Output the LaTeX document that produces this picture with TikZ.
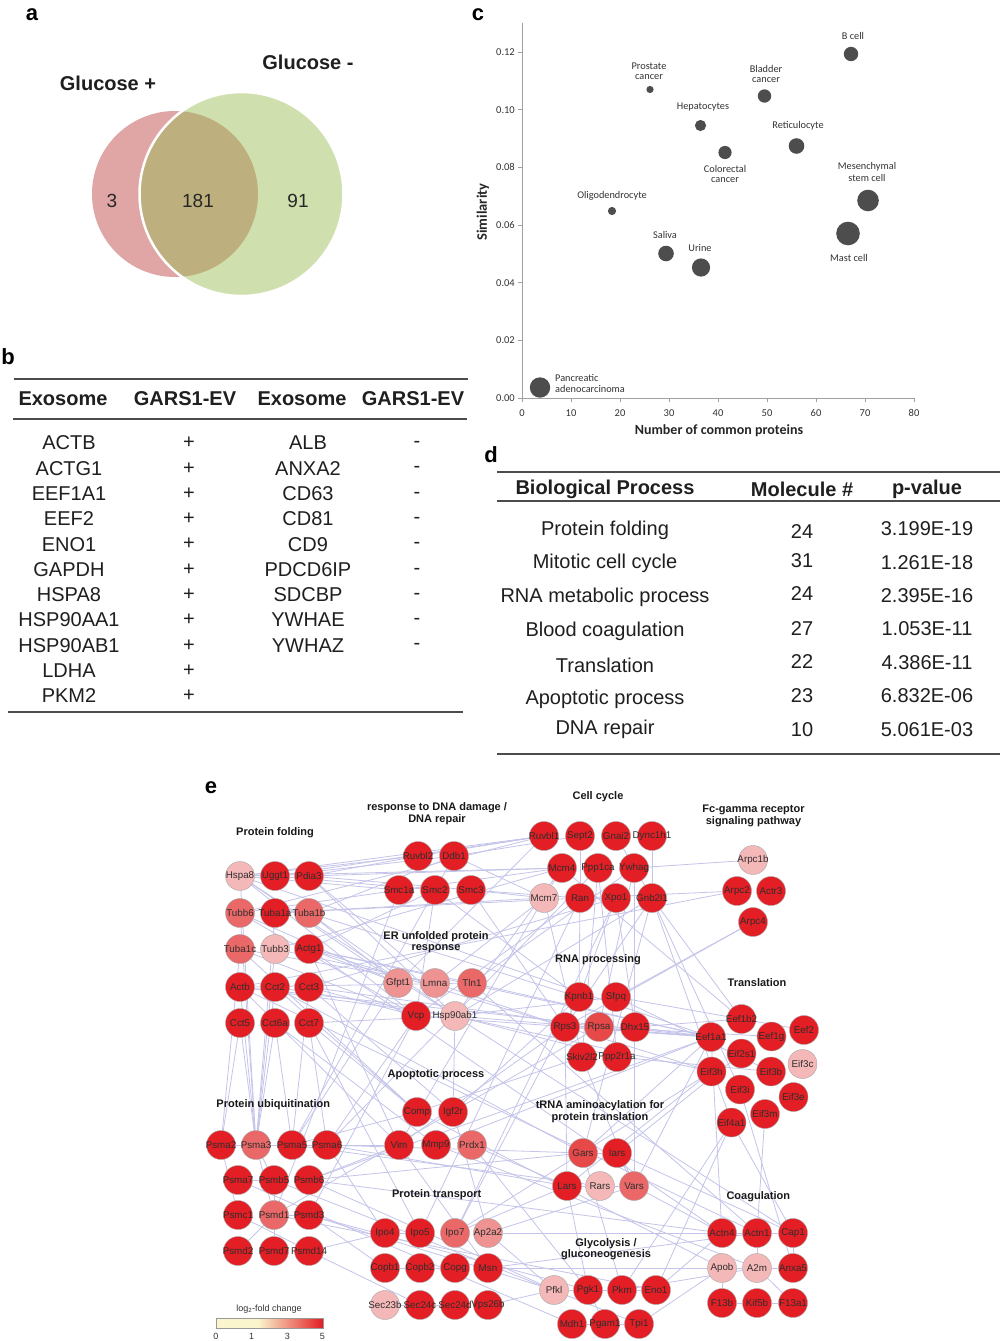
\documentclass[tikz,border=0pt]{standalone}
\usepackage{fontspec}
\setmainfont{Liberation Sans}
\newfontfamily\calib{Carlito}
\usetikzlibrary{backgrounds}
\newcommand\fsz[1]{\fontsize{#1}{#1}\selectfont}
\definecolor{gred}{RGB}{227,30,36}
\definecolor{grpsa}{RGB}{231,72,72}
\definecolor{gmid}{RGB}{234,104,104}
\definecolor{glm}{RGB}{238,146,146}
\definecolor{glt}{RGB}{245,184,184}
\definecolor{edgec}{RGB}{196,196,234}
\definecolor{vpink}{RGB}{224,165,165}
\definecolor{vgreen}{RGB}{207,223,174}
\definecolor{volive}{RGB}{190,176,126}
\definecolor{dotc}{RGB}{77,77,77}
\definecolor{axc}{RGB}{160,160,160}
\definecolor{lgy}{RGB}{250,245,205}
\tikzset{
 gene/.style={circle, minimum size=29pt, inner sep=0pt, draw=black!35, line width=0.4pt},
 genetxt/.style={font=\fsz{9.8}, inner sep=0pt, text=black!82},
 ttl/.style={font=\bfseries\fsz{11}, inner sep=0pt, text=black!90},
 plab/.style={font=\bfseries\fsz{22}, inner sep=0pt},
 tb/.style={font=\fsz{20}, inner sep=0pt, text=black!88},
 tbh/.style={font=\bfseries\fsz{20}, inner sep=0pt, text=black!88},
 clab/.style={font=\calib\fsz{10.3}, inner sep=0pt, text=black!80},
 elink/.style={draw=edgec, line width=0.8pt},
 tabrule/.style={draw=black!70, line width=1.4pt},
}
\newcommand\gn[4]{\node[gene, fill=#4] (#1) at (#2,#3) {}; \node[genetxt] (t#1) at (#1) {#1};}
\begin{document}
\begin{tikzpicture}[x=1pt,y=-1pt]
\useasboundingbox (0,0) rectangle (1000,1341);
\begin{scope}[on background layer]\fill[white] (0,0) rectangle (1000,1341);\end{scope}

% ---------- panel labels
\node[plab] (la) at (32,15) {a};
\node[plab] (lb) at (8,357) {b};
\node[plab] (lc) at (478,15) {c};
\node[plab] (ld) at (491,455) {d};
\node[plab] (le) at (211,788) {e};

% ---------- panel a: Venn
\fill[vpink] (175,194) circle (83pt);
\fill[vgreen] (241.5,194) circle (102pt);
\begin{scope}
\clip (175,194) circle (83pt);
\fill[volive] (241.5,194) circle (102pt);
\end{scope}
\draw[white, line width=2.5pt] (241.5,194) circle (102pt);
\node[font=\bfseries\fsz{20}, inner sep=0pt, text=black!88] (gp) at (108,83) {Glucose +};
\node[font=\bfseries\fsz{20}, inner sep=0pt, text=black!88] (gm) at (308,62) {Glucose -};
\node[font=\fsz{19}, inner sep=0pt, text=black!85] (n3) at (112,201) {3};
\node[font=\fsz{19}, inner sep=0pt, text=black!85] (n181) at (198,201) {181};
\node[font=\fsz{19}, inner sep=0pt, text=black!85] (n91) at (298,201) {91};

% ---------- panel b: table
\draw[tabrule] (14,379) -- (468,379);
\draw[tabrule] (13,419) -- (467,419);
\draw[tabrule] (8,712) -- (463,712);
\node[tbh] (bh1) at (63,399) {Exosome};
\node[tbh] (bh2) at (185,399) {GARS1-EV};
\node[tbh] (bh3) at (302,399) {Exosome};
\node[tbh] (bh4) at (413,399) {GARS1-EV};
\foreach \t [count=\i from 0] in {ACTB,ACTG1,EEF1A1,EEF2,ENO1,GAPDH,HSPA8,HSP90AA1,HSP90AB1,LDHA,PKM2}
 {\node[tb] (bl\i) at (69,443+25.3*\i) {\t}; \node[tb] (bp\i) at (189,443+25.3*\i) {+};}
\foreach \t [count=\i from 0] in {ALB,ANXA2,CD63,CD81,CD9,PDCD6IP,SDCBP,YWHAE,YWHAZ}
 {\node[tb] (br\i) at (308,443+25.3*\i) {\t}; \node[tb] (bm\i) at (417,444.5+25.3*\i) {-};}

% ---------- panel c: bubble plot
\draw[axc, line width=0.9pt] (522,23) -- (522,398) -- (914,398);
\foreach \i in {0,...,8} {
 \pgfmathtruncatemacro\lab{10*\i}
 \draw[axc, line width=0.8pt] (522+49*\i,398) -- (522+49*\i,402);
 \node[clab, font=\calib\fsz{10.5}] (cx\i) at (522+49*\i,413) {\lab};
}
\foreach \j/\t in {0/0.00,1/0.02,2/0.04,3/0.06,4/0.08,5/0.10,6/0.12} {
 \draw[axc, line width=0.8pt] (518,398-57.67*\j) -- (522,398-57.67*\j);
 \node[clab, font=\calib\fsz{10.5}, anchor=east] (cy\j) at (515,398-57.67*\j) {\t};
}
\node[font=\calib\bfseries\fsz{14}, inner sep=0pt, text=black!85] (cxt) at (719,431) {Number of common proteins};
\node[font=\calib\bfseries\fsz{14.5}, inner sep=0pt, rotate=90, text=black!85] (cyt) at (483,212) {Similarity};
\fill[dotc] (851,54) circle (7.2pt);
\fill[dotc] (650,89.5) circle (3.6pt);
\fill[dotc] (764.5,96) circle (6.7pt);
\fill[dotc] (700.5,125.5) circle (5.6pt);
\fill[dotc] (725,152.5) circle (6.6pt);
\fill[dotc] (796.5,146) circle (7.8pt);
\fill[dotc] (868,200.5) circle (10.8pt);
\fill[dotc] (848,233.5) circle (11.8pt);
\fill[dotc] (612,211) circle (4.1pt);
\fill[dotc] (666,253.5) circle (7.8pt);
\fill[dotc] (701,267.5) circle (9.1pt);
\fill[dotc] (540,387.5) circle (10.2pt);
\node[clab] (cl1) at (853,36) {B cell};
\node[clab] (cl2a) at (649,66) {Prostate};
\node[clab] (cl2b) at (649,77) {cancer};
\node[clab] (cl3a) at (766,69) {Bladder};
\node[clab] (cl3b) at (766,80) {cancer};
\node[clab] (cl4) at (703,107) {Hepatocytes};
\node[clab] (cl5) at (798,126) {Reticulocyte};
\node[clab] (cl6a) at (725,169) {Colorectal};
\node[clab] (cl6b) at (725,180) {cancer};
\node[clab] (cl7a) at (867,167) {Mesenchymal};
\node[clab] (cl7b) at (867,178) {stem cell};
\node[clab] (cl8) at (612,196) {Oligodendrocyte};
\node[clab] (cl9) at (665,235) {Saliva};
\node[clab] (cl10) at (700,248) {Urine};
\node[clab] (cl11) at (849,258) {Mast cell};
\node[clab, anchor=west] (cl12a) at (555,378) {Pancreatic};
\node[clab, anchor=west] (cl12b) at (555,389) {adenocarcinoma};

% ---------- panel d: table
\draw[tabrule] (497,472) -- (1000,472);
\draw[tabrule] (497,501) -- (1000,501);
\draw[tabrule] (497,754) -- (1000,754);
\node[tbh] (dh1) at (605,489) {Biological Process};
\node[tbh] (dh2) at (802,489) {Molecule \#};
\node[tbh] (dh3) at (927,489) {p-value};
\foreach \p/\y [count=\i] in {Protein folding/530,Mitotic cell cycle/563,RNA metabolic process/597,Blood coagulation/631,Translation/665,Apoptotic process/699,DNA repair/729}
 {\node[tb] (dp\i) at (605,\y) {\p};}
\foreach \n/\y [count=\i] in {24/531.7,31/560.7,24/594,27/628.3,22/661.7,23/696,10/729.3}
 {\node[tb] (dn\i) at (802,\y) {\n};}
\foreach \v/\y [count=\i] in {3.199E-19/529,1.261E-18/562.7,2.395E-16/596,1.053E-11/629,4.386E-11/662.7,6.832E-06/696,5.061E-03/729.3}
 {\node[tb] (dv\i) at (927,\y) {\v};}

% ---------- panel e: network
\node[ttl] (tPF) at (275,833) {Protein folding};
\node[ttl] (tDNa) at (437,807.7) {response to DNA damage /};
\node[ttl] (tDNb) at (437,819.3) {DNA repair};
\node[ttl] (tERa) at (436,937) {ER unfolded protein};
\node[ttl] (tERb) at (436,949) {response};
\node[ttl] (tCC) at (598,797) {Cell cycle};
\node[ttl] (tFCa) at (753.5,810) {Fc-gamma receptor};
\node[ttl] (tFCb) at (753.5,821.7) {signaling pathway};
\node[ttl] (tRNA) at (598,960) {RNA processing};
\node[ttl] (tTR) at (757,982.5) {Translation};
\node[ttl] (tAP) at (436,1074.3) {Apoptotic process};
\node[ttl] (tPU) at (273.3,1104.5) {Protein ubiquitination};
\node[ttl] (tTRa) at (600,1105.7) {tRNA aminoacylation for};
\node[ttl] (tTRb) at (600,1117.3) {protein translation};
\node[ttl] (tPT) at (436.7,1195) {Protein transport};
\node[ttl] (tGLa) at (606,1243.3) {Glycolysis /};
\node[ttl] (tGLb) at (606,1255) {gluconeogenesis};
\node[ttl] (tCO) at (758.3,1196.7) {Coagulation};

% Protein folding
\gn{Hspa8}{240}{876}{glt}
\gn{Uggt1}{275}{876}{gred}
\gn{Pdia3}{309}{876}{gred}
\gn{Tubb6}{240}{913}{gmid}
\gn{Tuba1a}{275}{913}{gred}
\gn{Tuba1b}{309}{913}{gmid}
\gn{Tuba1c}{240}{949}{gmid}
\gn{Tubb3}{275}{949}{glt}
\gn{Actg1}{309}{949}{gred}
\gn{Actb}{240}{987}{gred}
\gn{Cct2}{275}{987}{gred}
\gn{Cct3}{309}{987}{gred}
\gn{Cct5}{240}{1023}{gred}
\gn{Cct6a}{275}{1023}{gred}
\gn{Cct7}{309}{1023}{gred}
% DNA damage
\gn{Ruvbl2}{418}{856}{gred}
\gn{Ddb1}{454}{856}{gred}
\gn{Smc1a}{399}{890}{gred}
\gn{Smc2}{435}{890}{gred}
\gn{Smc3}{471}{890}{gred}
% ER
\gn{Gfpt1}{398}{983}{glm}
\gn{Lmna}{435}{983}{glm}
\gn{Tln1}{472}{983}{gmid}
\gn{Vcp}{416}{1016}{gred}
\gn{Hsp90ab1}{455}{1016}{glt}
% Cell cycle
\gn{Ruvbl1}{544}{836}{gred}
\gn{Sept2}{580}{836}{gred}
\gn{Gnai2}{616}{836}{gred}
\gn{Dync1h1}{652}{836}{gred}
\gn{Mcm4}{562}{868}{gred}
\gn{Ppp1ca}{598}{868}{gred}
\gn{Ywhag}{634}{868}{gred}
\gn{Mcm7}{544}{898}{glt}
\gn{Ran}{580}{898}{gred}
\gn{Xpo1}{616}{898}{gred}
\gn{Gnb2l1}{652}{898}{gred}
% Fc-gamma
\gn{Arpc1b}{753}{860}{glt}
\gn{Arpc2}{737}{891}{gred}
\gn{Actr3}{771}{891}{gred}
\gn{Arpc4}{753}{922}{gred}
% RNA processing
\gn{Kpnb1}{579}{997}{gred}
\gn{Sfpq}{616}{997}{gred}
\gn{Rps3}{565}{1027}{gred}
\gn{Rpsa}{599}{1027}{grpsa}
\gn{Dhx15}{635}{1027}{gred}
\gn{Skiv2l2}{582}{1057}{gred}
\gn{Ppp2r1a}{617}{1057}{gred}
% Translation
\gn{Eef1b2}{741.5}{1019}{gred}
\gn{Eef1a1}{711}{1037}{gred}
\gn{Eef1g}{771.5}{1036.5}{gred}
\gn{Eef2}{804}{1030}{gred}
\gn{Eif2s1}{741.5}{1053.5}{gred}
\gn{Eif3c}{802.5}{1064}{glt}
\gn{Eif3h}{711.5}{1071.5}{gred}
\gn{Eif3b}{771}{1071.5}{gred}
\gn{Eif3i}{740}{1089.5}{gred}
\gn{Eif3e}{793.5}{1097}{gred}
\gn{Eif3m}{765}{1114}{gred}
\gn{Eif4a1}{731.5}{1122.5}{gred}
% Apoptotic
\gn{Comp}{417}{1112}{gred}
\gn{Igf2r}{453}{1112}{gred}
\gn{Vim}{399}{1145}{gred}
\gn{Mmp9}{436}{1145}{gred}
\gn{Prdx1}{472}{1145}{gmid}
% Ubiquitination
\gn{Psma2}{221}{1145}{gred}
\gn{Psma3}{256}{1145}{gmid}
\gn{Psma5}{292}{1145}{gred}
\gn{Psma6}{327}{1145}{gred}
\gn{Psma7}{238}{1180}{gred}
\gn{Psmb5}{274}{1180}{gred}
\gn{Psmb6}{309}{1180}{gred}
\gn{Psmc1}{238}{1215}{gred}
\gn{Psmd1}{274}{1215}{gmid}
\gn{Psmd3}{309}{1215}{gred}
\gn{Psmd2}{238}{1251}{gred}
\gn{Psmd7}{274}{1251}{gred}
\gn{Psmd14}{309}{1251}{gred}
% Protein transport
\gn{Ipo4}{385}{1233}{gred}
\gn{Ipo5}{420}{1233}{gred}
\gn{Ipo7}{455}{1233}{gmid}
\gn{Ap2a2}{488}{1233}{glm}
\gn{Copb1}{385}{1268}{gred}
\gn{Copb2}{420}{1268}{gred}
\gn{Copg}{455}{1268}{gred}
\gn{Msn}{488}{1268}{gred}
\gn{Sec23b}{385}{1305}{glt}
\gn{Sec24c}{420}{1305}{gred}
\gn{Sec24d}{455}{1305}{gred}
\gn{Vps26b}{488}{1305}{gred}
% tRNA
\gn{Gars}{583}{1153}{grpsa}
\gn{Iars}{617}{1153}{gred}
\gn{Lars}{567}{1186}{gred}
\gn{Rars}{600}{1186}{glt}
\gn{Vars}{634}{1186}{gmid}
% Glycolysis
\gn{Pfkl}{554}{1290}{glt}
\gn{Pgk1}{588}{1290}{gred}
\gn{Pkm}{622}{1290}{gred}
\gn{Eno1}{656}{1290}{gred}
\gn{Mdh1}{572}{1324}{gred}
\gn{Pgam1}{605}{1324}{gred}
\gn{Tpi1}{639}{1324}{gred}
% Coagulation
\gn{Actn4}{722}{1233}{gred}
\gn{Actn1}{757}{1233}{gred}
\gn{Cap1}{793}{1233}{gred}
\gn{Apob}{722}{1268}{glt}
\gn{A2m}{757}{1268}{glt}
\gn{Anxa5}{793}{1268}{gred}
\gn{F13b}{722}{1303}{gred}
\gn{Kif5b}{757}{1303}{gred}
\gn{F13a1}{793}{1303}{gred}

% edges
\begin{scope}[on background layer]
\foreach \a/\b in {
Hspa8/Ruvbl2,Hspa8/Smc1a,Hspa8/Ruvbl1,Hspa8/Hsp90ab1,Hspa8/Vcp,Hspa8/Psma3,Hspa8/Eef1a1,Hspa8/Gfpt1,
Uggt1/Ruvbl1,Uggt1/Smc2,Pdia3/Mcm4,Pdia3/Ruvbl2,Pdia3/Lmna,Pdia3/Hsp90ab1,
Tubb6/Smc1a,Tubb6/Gfpt1,Tubb6/Vcp,Tubb6/Psma3,Tuba1a/Mcm7,Tuba1a/Ran,Tuba1a/Psma3,
Tuba1b/Ddb1,Tuba1b/Gfpt1,Tuba1b/Kpnb1,Tuba1c/Vcp,Tuba1c/Psma2,Tuba1c/Comp,
Tubb3/Mcm4,Tubb3/Psma3,Tubb3/Lmna,Actg1/Smc2,Actg1/Tln1,Actg1/Rps3,Actg1/Eef1a1,Actg1/Actn4,
Actb/Hsp90ab1,Actb/Vim,Actb/Psma3,Actb/Eef1a1,Actb/Arpc2,Actb/Actn1,
Cct2/Psma3,Cct2/Gars,Cct2/Comp,Cct3/Rpsa,Cct3/Xpo1,Cct3/Psma5,
Cct5/Psma2,Cct5/Psma3,Cct6a/Psma3,Cct6a/Mmp9,Cct7/Psma6,Cct7/Hsp90ab1,Cct7/Ipo5,
Hspa8/Mcm4,Uggt1/Ddb1,Pdia3/Smc3,Tubb6/Ruvbl1,Tuba1b/Hsp90ab1,Actg1/Gfpt1,Actg1/Vim,Cct3/Vcp,Cct3/Igf2r,
Cct2/Hsp90ab1,Tuba1c/Lmna,Actb/Tln1,Cct6a/Psma5,Cct7/Comp,Psma6/Vim,Psmb6/Gars,Psmd3/Pfkl,Psma6/Lars,
Psmd14/Ipo4,Vcp/Eef1a1,Smc2/Kpnb1,Lmna/Rps3,Tln1/Eef1a1,
Ruvbl2/Ruvbl1,Ddb1/Sept2,Ddb1/Mcm7,Smc1a/Mcm4,Smc3/Mcm7,Smc3/Ran,Smc3/Rps3,Smc2/Vcp,Ddb1/Psma5,Smc1a/Psmd1,
Gfpt1/Psma5,Lmna/Mcm7,Tln1/Actn1,Tln1/Ywhag,Vcp/Psmd3,Vcp/Ran,Vcp/Psma6,
Hsp90ab1/Eef1a1,Hsp90ab1/Sfpq,Hsp90ab1/Gnb2l1,Hsp90ab1/Igf2r,Hsp90ab1/Cap1,Hsp90ab1/Eif3h,Hsp90ab1/Ppp2r1a,
Ruvbl1/Gfpt1,Mcm4/Mcm7,Mcm7/Vim,Mcm7/Skiv2l2,Ran/Kpnb1,Ran/Ipo5,Ran/Xpo1,Xpo1/Kpnb1,Xpo1/Dhx15,Xpo1/Ipo7,
Gnb2l1/Eef1b2,Gnb2l1/Eif3i,Gnb2l1/Gars,Gnb2l1/Rps3,Gnb2l1/Eif4a1,Ywhag/Arpc1b,Ywhag/Rpsa,
Ppp1ca/Ppp2r1a,Ppp1ca/Skiv2l2,Gnai2/Gnb2l1,Dync1h1/Gnb2l1,Sept2/Ran,Mcm4/Hsp90ab1,Ppp1ca/Psma6,Ywhag/Vars,
Arpc2/Ran,Mcm4/Eef1b2,Arpc4/Sfpq,Arpc4/Rps3,
Kpnb1/Ipo7,Rps3/Eef1a1,Rps3/Vim,Rps3/Eif3h,Rpsa/Eef1g,Rpsa/Psmd1,Dhx15/Eef1a1,Sfpq/Eef2,Skiv2l2/Vars,Ppp2r1a/Eif3b,Skiv2l2/Comp,Rps3/Lars,
Eef1a1/Vars,Eef1a1/Actn4,Eef1a1/Mmp9,Eef1a1/Gars,Eef1a1/Psmb6,Eif3h/Lars,Eif3h/Ipo7,Eif4a1/Cap1,Eif4a1/Eno1,Eif4a1/Pkm,
Eif3i/Anxa5,Eif3m/Actn1,Eif2s1/Iars,Eef1b2/Dhx15,Eif3b/Sfpq,
Comp/Psma5,Vim/Psmb6,Vim/Msn,Mmp9/A2m,Prdx1/Pgk1,Prdx1/Lars,Igf2r/Ap2a2,Igf2r/Kpnb1,Comp/Apob,
Psma2/Psma3,Psma3/Psma5,Psma5/Psma6,Psma7/Psmb5,Psma3/Psmb5,Psma3/Psmd1,Psma2/Psmc1,Psmb5/Psmd7,Psmc1/Psmd14,Psmd2/Psmd1,Psmd1/Psmd3,
Psma6/Ipo4,Psma6/Gars,Psmb6/Pfkl,Psmb6/Actn4,Psmd3/Pgk1,Psmd3/Copb1,Psmd1/Eno1,Psmd14/Sec24c,Psma5/Rars,Psmb5/Tpi1,Psma7/Mdh1,
Ipo5/Ipo4,Ap2a2/Actn4,Ap2a2/Pfkl,Msn/Actn1,Msn/Apob,Copb1/Copb2,Copg/Copb2,Sec24d/Sec24c,Ipo7/Lars,Ap2a2/Vars,Vps26b/Pfkl,Sec23b/Sec24d,
Gars/Iars,Lars/Rars,Rars/Vars,Iars/Vars,Vars/Actn4,Iars/Cap1,Lars/Pgk1,Gars/Pkm,
Pfkl/Pgk1,Pgk1/Pkm,Pkm/Eno1,Mdh1/Pgam1,Pgam1/Tpi1,Pgk1/Pgam1,Eno1/Actn4,Pkm/A2m,Tpi1/Apob,
Actn4/Actn1,Actn1/Cap1,Apob/A2m,A2m/Anxa5,F13b/Kif5b,Kif5b/F13a1,Actn1/A2m,Cap1/Anxa5,A2m/F13a1,Apob/F13b}
 {\draw[elink] (\a) -- (\b);}
\end{scope}

% legend
\node[font=\fsz{9}, inner sep=0pt, text=black!80] (lgt) at (269,1309) {log\textsubscript{2}-fold change};
\fill[lgy] (216,1318) rectangle (258,1328);
\shade[left color=lgy, middle color={rgb,255:red,242;green,190;blue,190}, right color=gred] (258,1318) rectangle (322.7,1328);
\draw[black!40, line width=0.4pt] (216,1318) rectangle (322.7,1328);
\node[font=\fsz{9}, inner sep=0pt, text=black!80] (lg0) at (216,1336) {0};
\node[font=\fsz{9}, inner sep=0pt, text=black!80] (lg1) at (251.7,1336) {1};
\node[font=\fsz{9}, inner sep=0pt, text=black!80] (lg3) at (287.3,1336) {3};
\node[font=\fsz{9}, inner sep=0pt, text=black!80] (lg5) at (322.3,1336) {5};
\end{tikzpicture}
\end{document}
